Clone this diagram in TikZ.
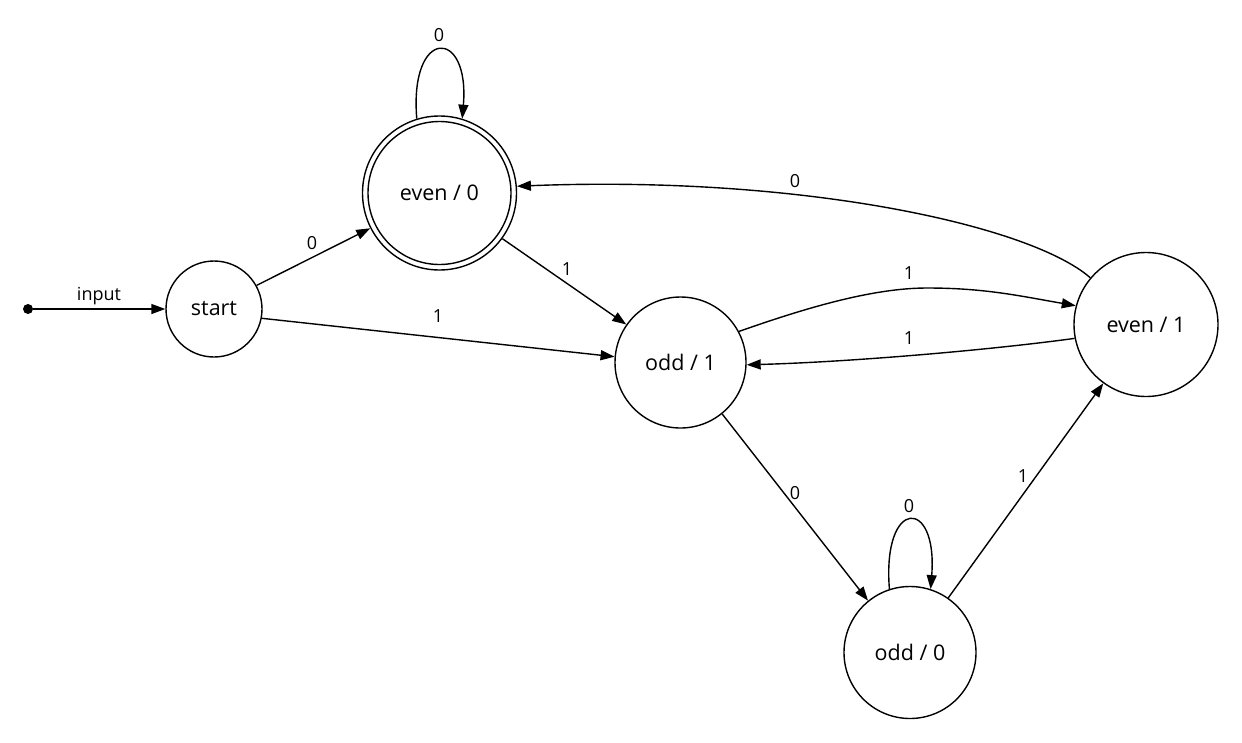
\documentclass[tikz,border=0pt]{standalone}
\usepackage{fontspec}
\setmainfont{Open Sans}
\usetikzlibrary{arrows.meta}
\begin{document}
\begin{tikzpicture}[x=1pt,y=-1pt,
  state/.style={circle,draw,line width=1.4pt,inner sep=0pt,font=\fontsize{21.5}{25}\selectfont},
  edge/.style={line width=1.4pt,-{Triangle[length=14pt,width=10pt]}},
  lbl/.style={font=\fontsize{18}{21}\selectfont,inner sep=0pt}]
\useasboundingbox (0,0) rectangle (1242,742);
\node[circle,fill,inner sep=0pt,minimum size=10pt] (in) at (28,309) {};
\node[state,minimum size=96pt] (s) at (214,309) {start};
\node[state,minimum size=154pt] (e0) at (439.5,193) {};
\node[state,minimum size=143pt] (e0in) at (439.5,193) {even / 0};
\node[state,minimum size=131pt] (o1) at (680.5,362.5) {odd / 1};
\node[state,minimum size=144pt] (e1) at (1146,324.5) {even / 1};
\node[state,minimum size=132pt] (o0) at (910,652.5) {odd / 0};

\draw[edge] (in) -- (s.west);
\draw[edge] (s.29) -- (e0.207);
\draw[edge] (s.-11) -- (o1.175);
\draw[edge] (e0.-36) -- (o1.145);
\draw[edge] (e0.107) .. controls (409,27) and (470,27) .. (e0.73);
\draw[edge] (e1.140) .. controls (1030,225) and (800,175) .. (e0.5);
\draw[edge] (o1.28) .. controls (800,310) and (870,288) .. (927,288) .. controls (985,288) and (1020,296) .. (e1.165);
\draw[edge] (e1.191) .. controls (990,350) and (850,362) .. (o1.-2);
\draw[edge] (o1.-51) -- (o0.129);
\draw[edge] (o0.55) -- (e1.234);
\draw[edge] (o0.108) .. controls (882,497) and (938,497) .. (o0.72);

\node[lbl] (l0) at (99,296) {input};
\node[lbl] (l1) at (312,243) {0};
\node[lbl] (l2) at (438,316) {1};
\node[lbl] (l3) at (567,269) {1};
\node[lbl] (l4) at (439,35) {0};
\node[lbl] (l5) at (795,181) {0};
\node[lbl] (l6) at (909,273) {1};
\node[lbl] (l7) at (909,338) {1};
\node[lbl] (l8) at (795,493) {0};
\node[lbl] (l9) at (1023,476) {1};
\node[lbl] (l10) at (909,506) {0};
\end{tikzpicture}
\end{document}
